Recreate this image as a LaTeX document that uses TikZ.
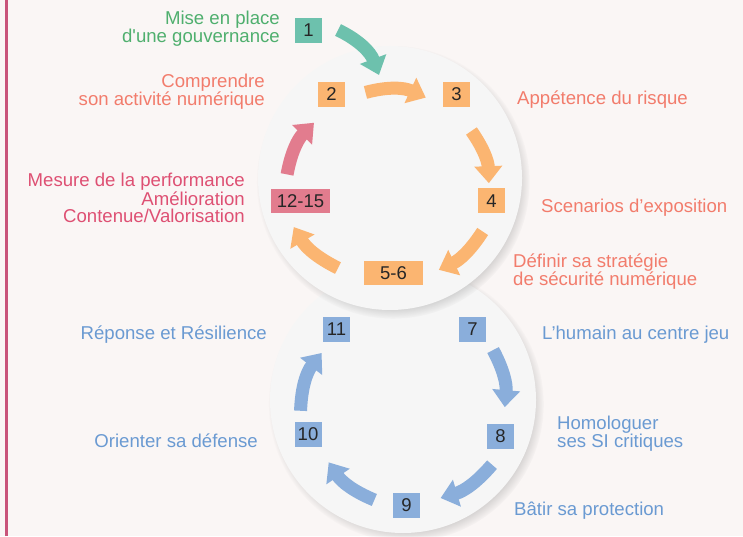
\documentclass[tikz,border=0pt]{standalone}
\usepackage{fontspec}
\setmainfont{Liberation Sans}
\usetikzlibrary{arrows.meta, shadows, calc}

\definecolor{paper}{HTML}{FAF6F5}
\definecolor{discgray}{HTML}{F6F6F6}
\definecolor{sidebar}{HTML}{C9547A}
\definecolor{ringteal}{HTML}{6DC1AD}
\definecolor{ringorange}{HTML}{FBB571}
\definecolor{ringpink}{HTML}{E27C8E}
\definecolor{ringblue}{HTML}{8AAEDB}
\definecolor{govgreen}{HTML}{4FAF6E}
\definecolor{risksalmon}{HTML}{F27C6C}
\definecolor{perfpink}{HTML}{DE5073}
\definecolor{defblue}{HTML}{6A9AD2}

\newcommand{\lblfont}{\fontsize{18.6}{17}\selectfont}

\tikzset{
  disc/.style={circle, fill=discgray, inner sep=0pt,
    circular drop shadow={shadow xshift=3pt, shadow yshift=-4pt, shadow scale=1.035, opacity=0.55}},
  stepbox/.style={minimum width=27pt, minimum height=25pt, inner sep=0pt,
    font=\fontsize{18.5}{18}\selectfont, text=black!85},
  tealbox/.style={stepbox, fill=ringteal},
  orangebox/.style={stepbox, fill=ringorange},
  bluebox/.style={stepbox, fill=ringblue},
  orangewide/.style={orangebox, minimum width=59pt, minimum height=24pt},
  pinkwide/.style={stepbox, fill=ringpink, minimum width=59pt, minimum height=24pt},
  ringarrow/.style={line width=13pt, -{Triangle[length=17pt, width=27pt]}},
  lbl/.style={inner sep=0pt, font=\lblfont},
  lbl left/.style={lbl, anchor=east, align=right},
  lbl right/.style={lbl, anchor=west, align=left}
}

\begin{document}
\begin{tikzpicture}[x=1pt, y=1pt]
  \useasboundingbox (0,0) rectangle (743,536);
  \fill [paper] (0,0) rectangle (743,536);
  \draw [sidebar, line width=3pt] (6.5,0) -- (6.5,536);

  % the two rings, upper one over the lower one
  \node [disc, minimum size=266pt] (cl) at (403,136) {};
  \node [disc, minimum size=264pt] (cu) at (390,358) {};

  \foreach \n/\x/\y/\l/\s in {b1/308.5/505.5/1/tealbox, b2/331.5/441.5/2/orangebox,
      b3/456.5/441.5/3/orangebox, b4/491.5/335/4/orangebox, b56/393.5/263/5-6/orangewide,
      b1215/300.5/335/12-15/pinkwide, b7/472.5/206.5/7/bluebox, b8/500.5/99.5/8/bluebox,
      b9/406.5/30.5/9/bluebox, b10/308/101.5/10/bluebox, b11/336.5/206.5/11/bluebox} {
    \node [\s] (\n) at (\x,\y) {\l};
  }

  % arrows round the rings: centre/start angle/radius/end angle/radius/colour
  \foreach \c/\a/\r/\b/\s/\col [count=\i] in {cu/106/89/66/88/ringorange,
      cu/30/94/-3/99/ringorange, cu/-30/107/-62/104/ringorange,
      cu/-120/104/-153/108/ringorange, cu/178/103/144/94/ringpink,
      cl/29/103/-4/102/ringblue, cl/-36/110/-69/105/ringblue,
      cl/-106/104/-140/97/ringblue, cl/186/103/150/94/ringblue} {
    \pgfmathsetmacro\bnd{(\a-\b)/2}
    \coordinate (s\i) at ($(\c)+(\a:\r)$);
    \coordinate (e\i) at ($(\c)+(\b:\s)$);
    \draw [ringarrow, \col] (s\i) to [bend left=\bnd] (e\i);
  }

  \coordinate (gs) at (338,506);
  \coordinate (ge) at (379,461);
  \draw [ringarrow, ringteal] (gs) to [bend left=22] (ge);

  \node [lbl left, govgreen] (tgov) at (280,507.5) {Mise en place\\d\textquotesingle une gouvernance};
  \node [lbl left, risksalmon] (tact) at (265,444.5) {Comprendre\\son activité numérique};
  \node [lbl right, risksalmon] (tapp) at (517,436) {Appétence du risque};
  \node [lbl right, risksalmon] (tsce) at (541,328) {Scenarios d’exposition};
  \node [lbl right, risksalmon] (tstr) at (513,264.5) {Définir sa stratégie\\de sécurité numérique};
  \node [lbl left, perfpink] (tper) at (245,338) {Mesure de la performance\\Amélioration\\Contenue/Valorisation};
  \node [lbl left, defblue] (tres) at (267,201) {Réponse et Résilience};
  \node [lbl left, defblue] (tori) at (258,95) {Orienter sa défense};
  \node [lbl right, defblue] (thum) at (542,201) {L’humain au centre jeu};
  \node [lbl right, defblue] (thom) at (557,102) {Homologuer\\ses SI critiques};
  \node [lbl right, defblue] (tbat) at (514,25) {Bâtir sa protection};
\end{tikzpicture}
\end{document}
